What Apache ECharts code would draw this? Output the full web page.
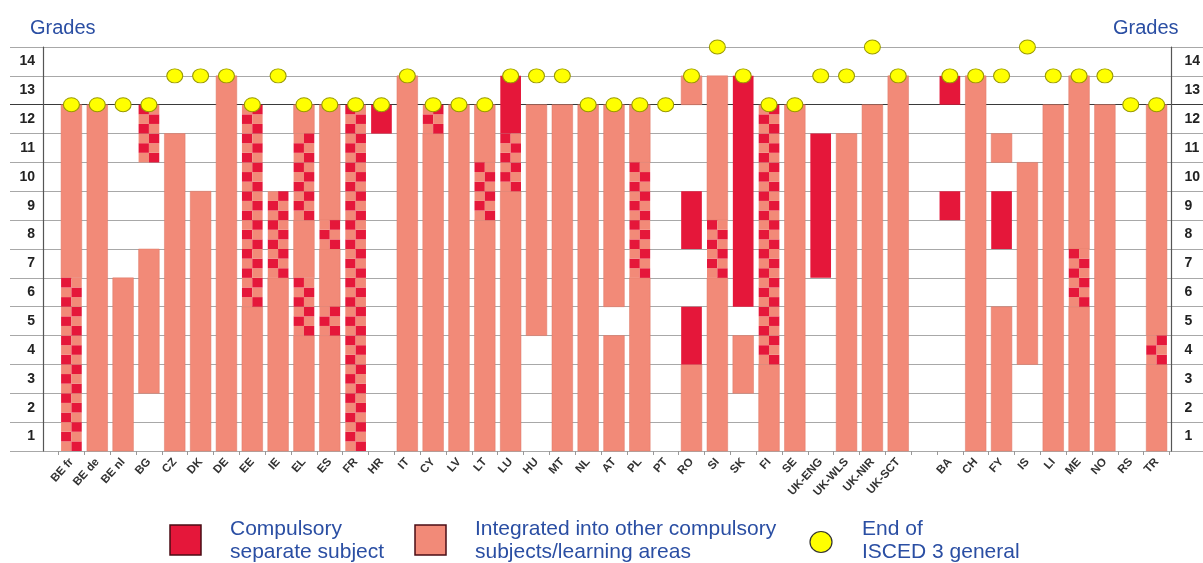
<!DOCTYPE html>
<html><head><meta charset="utf-8">
<script src="https://cdn.jsdelivr.net/npm/echarts@6/dist/echarts.min.js"></script>
<style>html,body{margin:0;padding:0;background:#fff}#c{width:1203px;height:563px}</style>
</head><body><div id="c"></div>
<script>
// ---- data ----
const categories = ['BE fr','BE de','BE nl','BG','CZ','DK','DE','EE','IE','EL','ES','FR','HR','IT','CY','LV','LT','LU','HU','MT','NL','AT','PL','PT','RO','SI','SK','FI','SE','UK-ENG','UK-WLS','UK-NIR','UK-SCT','','BA','CH','FY','IS','LI','ME','NO','RS','TR'];
const gradeLabels = ['1','2','3','4','5','6','7','8','9','10','11','12','13','14'];
// [country, from grade boundary, to grade boundary]
const integrated = [
  ['BE fr',6,12],['BE de',0,12],['BE nl',0,6],['BG',2,7],['CZ',0,11],['DK',0,9],['DE',0,13],
  ['EE',0,5],['IE',0,6],['EL',0,4],['EL',6,8],['EL',11,12],['ES',0,4],['ES',5,7],['ES',8,12],
  ['IT',0,13],['CY',0,11],['LV',0,12],['LT',0,8],['LT',10,12],['LU',0,9],['HU',4,12],['MT',0,12],
  ['NL',0,12],['AT',0,4],['AT',5,12],['PL',0,6],['PL',10,12],['RO',0,3],['RO',12,13],
  ['SI',0,6],['SI',8,13],['SK',2,4],['FI',0,3],['SE',0,12],['UK-WLS',0,11],['UK-NIR',0,12],
  ['UK-SCT',0,13],['CH',0,13],['FY',0,5],['FY',10,11],['IS',3,10],['LI',0,12],['ME',0,5],
  ['ME',7,13],['NO',0,12],['TR',0,3],['TR',4,12]
];
const compulsory = [
  ['HR',11,12],['LU',11,13],['RO',3,5],['RO',7,9],['SK',5,13],['UK-ENG',6,11],['BA',8,9],['BA',12,13],['FY',7,9]
];
const mixed = [
  ['BE fr',0,6],['BG',10,12],['EE',5,12],['IE',6,9],['EL',4,6],['EL',8,11],['ES',4,5],['ES',7,8],
  ['FR',0,12],['CY',11,12],['LT',8,10],['LU',9,11],['PL',6,10],['SI',6,8],['FI',3,12],['ME',5,7],['TR',3,4]
];
const iscedEnd = [12,12,12,12,13,13,13,12,13,12,12,12,12,13,12,12,12,13,13,13,12,12,12,12,13,14,13,12,12,13,13,14,13,null,13,13,13,14,13,13,13,12,12];

// ---- styles ----
const RED = '#E5173A', SALMON = '#F28A78', BLUE = '#2A4EA3';

function seg(list){ return list.map(s => [categories.indexOf(s[0]), s[1], s[2]]); }

function rectFor(api){
  const x = api.value(0), lo = api.value(1), hi = api.value(2);
  const p0 = api.coord([x, lo]), p1 = api.coord([x, hi]);
  const w = api.size([1,0])[0] * 0.8;
  return {x: p0[0]-w/2, y: p1[1], w: w, h: p0[1]-p1[1], lo, hi, cx: p0[0]};
}
function plainRender(color, stroke){
  return function(params, api){
    const r = rectFor(api);
    return {type:'rect', shape:{x:r.x, y:r.y, width:r.w, height:r.h},
      style:{fill:color, stroke:stroke, lineWidth:stroke?0.5:0}};
  };
}
function mixedRender(params, api){
  const r = rectFor(api);
  const children = [];
  const rows = Math.round((r.hi - r.lo) * 3);
  const cw = r.w / 2;
  for (let i = 0; i < rows; i++){
    const yb = api.coord([api.value(0), r.lo + i/3])[1];
    const yt = api.coord([api.value(0), r.lo + (i+1)/3])[1];
    for (let c = 0; c < 2; c++){
      children.push({type:'rect', shape:{x:r.x + c*cw, y:yt, width:cw, height:yb-yt},
        style:{fill: (i + c) % 2 === 0 ? SALMON : RED}});
    }
  }
  return {type:'group', children};
}

const lineColors = gradeLabels.map(()=>'#A8A8A8');
lineColors.unshift('#A8A8A8');
lineColors[12] = '#3a3a3a';

const chart = echarts.init(document.getElementById('c'), null, {renderer:'canvas'});
chart.setOption({
  animation:false,
  backgroundColor:'#fff',
  grid:[
    {left:10, right:0, top:47, bottom:112},
    {left:43, right:28, top:47, bottom:112},
    {left:58.5, right:33.5, top:47, bottom:112}
  ],
  xAxis:[
    {gridIndex:0, type:'value', show:false, min:0, max:1},
    {gridIndex:1, type:'value', show:false, min:0, max:1},
    {gridIndex:2, type:'category', data:categories, boundaryGap:true,
      axisLine:{show:false},
      axisTick:{show:true, interval:0, length:4, lineStyle:{color:'#999'}},
      axisLabel:{interval:0, rotate:48, margin:9, fontFamily:'Liberation Sans, Arial', fontWeight:'bold', fontSize:11.5, color:'#333'},
      splitLine:{show:false}}
  ],
  yAxis:[
    {gridIndex:0, type:'value', min:0, max:14, interval:1,
      axisLine:{show:false}, axisTick:{show:false}, axisLabel:{show:false},
      splitLine:{show:true, lineStyle:{color:lineColors, width:1.2}}},
    {gridIndex:1, type:'category', data:gradeLabels, position:'left',
      axisLine:{show:true, lineStyle:{color:'#555', width:1.2}}, axisTick:{show:false},
      axisLabel:{margin:8, fontFamily:'Liberation Sans, Arial', fontWeight:'bold', fontSize:14, color:'#222'},
      splitLine:{show:false}},
    {gridIndex:1, type:'category', data:gradeLabels, position:'right',
      axisLine:{show:true, lineStyle:{color:'#555', width:1.2}}, axisTick:{show:false},
      axisLabel:{margin:13, fontFamily:'Liberation Sans, Arial', fontWeight:'bold', fontSize:14, color:'#222'},
      splitLine:{show:false}},
    {gridIndex:2, type:'value', min:0, max:14, show:false}
  ],
  series:[
    {type:'custom', name:'Integrated', xAxisIndex:2, yAxisIndex:3, data:seg(integrated),
      encode:{x:0, y:[1,2]}, renderItem:plainRender(SALMON, '#DC7866'), z:2},
    {type:'custom', name:'Compulsory', xAxisIndex:2, yAxisIndex:3, data:seg(compulsory),
      encode:{x:0, y:[1,2]}, renderItem:plainRender(RED, null), z:2},
    {type:'custom', name:'Mixed', xAxisIndex:2, yAxisIndex:3, data:seg(mixed),
      encode:{x:0, y:[1,2]}, renderItem:mixedRender, z:2},
    {type:'scatter', name:'End of ISCED 3 general', xAxisIndex:2, yAxisIndex:3,
      data:iscedEnd.map((v,i)=> v==null ? null : [i, v]).filter(d=>d),
      symbol:'circle', symbolSize:[16,14],
      itemStyle:{color:'#FFFF00', borderColor:'#9A9A00', borderWidth:1, opacity:1}, z:5}
  ],
  graphic:[
    {type:'text', left:30, top:18, style:{text:'Grades', font:'20px "Liberation Sans", Arial', fill:BLUE}},
    {type:'text', left:1113, top:18, style:{text:'Grades', font:'20px "Liberation Sans", Arial', fill:BLUE}},
    {type:'rect', shape:{x:170, y:525, width:31, height:30}, style:{fill:RED, stroke:'#4a0c14', lineWidth:1.5}},
    {type:'text', left:230, top:518, style:{text:'Compulsory\nseparate subject', font:'21px "Liberation Sans", Arial', lineHeight:23, fill:BLUE}},
    {type:'rect', shape:{x:415, y:525, width:31, height:30}, style:{fill:SALMON, stroke:'#4a0c14', lineWidth:1.5}},
    {type:'text', left:475, top:518, style:{text:'Integrated into other compulsory\nsubjects/learning areas', font:'21px "Liberation Sans", Arial', lineHeight:23, fill:BLUE}},
    {type:'ellipse', shape:{cx:821, cy:542, rx:11, ry:10.5}, style:{fill:'#FFFF00', stroke:'#333', lineWidth:1.2}},
    {type:'text', left:862, top:518, style:{text:'End of\nISCED 3 general', font:'21px "Liberation Sans", Arial', lineHeight:23, fill:BLUE}}
  ]
});
</script>
</body></html>
